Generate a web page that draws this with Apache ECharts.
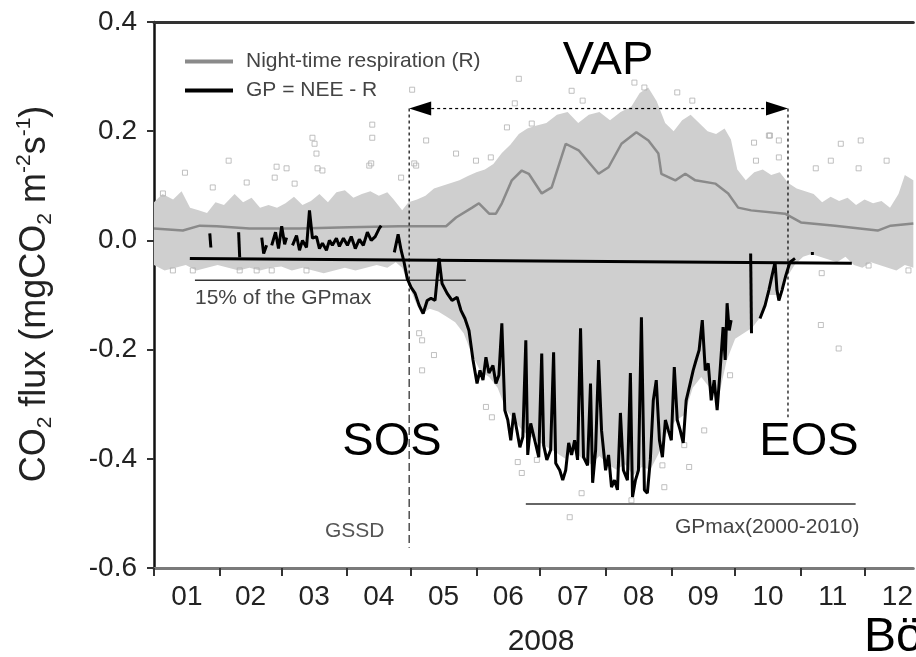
<!DOCTYPE html>
<html><head><meta charset="utf-8">
<script src="https://cdn.jsdelivr.net/npm/echarts@6/dist/echarts.min.js"></script>
<style>html,body{margin:0;padding:0;background:#fff}#c{width:916px;height:657px}</style>
</head><body><div id="c"></div>
<script>
// ---------- data (x = day of year 2008, y = CO2 flux mgCO2 m-2 s-1) ----------
const months = ['01','02','03','04','05','06','07','08','09','10','11','12'];
const monthStarts = [0,31,60,91,121,152,182,213,244,274,305,335];
const monthMids = [15.5,45.5,75.5,106,136.5,167,197.5,228.5,259,289.5,320,350.5];
const yMin = -0.6, yMax = 0.4, yStep = 0.2;
const dayMin = 0, dayMax = 358; // visible part of the year (figure is cropped on the right)

// upper / lower envelope of the dense cloud of half-hourly NEE points
const bandTop = [[0,0.070],[4,0.085],[9,0.075],[13,0.090],[17,0.060],[21,0.055],[25,0.050],[29,0.070],[33,0.065],[38,0.085],[42,0.070],[46,0.078],[50,0.060],[54,0.065],[58,0.060],[62,0.068],[66,0.080],[70,0.065],[74,0.072],[78,0.085],[82,0.070],[86,0.088],[90,0.092],[94,0.078],[98,0.085],[102,0.090],[106,0.082],[110,0.088],[113,0.075],[117,0.055],[120,0.070],[124,0.075],[128,0.082],[132,0.095],[136,0.100],[140,0.105],[144,0.110],[148,0.118],[152,0.125],[156,0.130],[160,0.140],[164,0.160],[168,0.175],[172,0.195],[176,0.205],[180,0.210],[185,0.215],[190,0.230],[195,0.235],[200,0.215],[205,0.230],[210,0.235],[215,0.220],[220,0.235],[225,0.245],[229,0.270],[233,0.280],[237,0.255],[241,0.215],[245,0.200],[249,0.220],[253,0.230],[257,0.215],[261,0.200],[265,0.195],[269,0.205],[272,0.185],[275,0.130],[279,0.110],[283,0.125],[287,0.130],[291,0.120],[295,0.125],[299,0.105],[303,0.095],[307,0.090],[311,0.085],[315,0.070],[319,0.080],[323,0.072],[327,0.078],[331,0.065],[335,0.075],[339,0.068],[343,0.072],[347,0.060],[351,0.085],[354,0.120],[358,0.110]];
const bandBot = [[0,-0.045],[5,-0.055],[10,-0.050],[15,-0.045],[20,-0.055],[25,-0.050],[30,-0.045],[35,-0.050],[40,-0.055],[45,-0.050],[50,-0.055],[55,-0.050],[60,-0.048],[65,-0.055],[70,-0.050],[75,-0.055],[80,-0.060],[85,-0.055],[90,-0.050],[95,-0.055],[100,-0.050],[105,-0.045],[110,-0.050],[114,-0.040],[117,-0.050],[120,-0.080],[123,-0.110],[126,-0.135],[130,-0.125],[134,-0.130],[138,-0.140],[142,-0.150],[146,-0.170],[150,-0.210],[154,-0.240],[158,-0.250],[162,-0.270],[166,-0.310],[170,-0.330],[174,-0.350],[178,-0.360],[182,-0.370],[186,-0.380],[190,-0.390],[194,-0.400],[198,-0.385],[202,-0.400],[206,-0.410],[210,-0.395],[214,-0.410],[218,-0.420],[222,-0.410],[226,-0.430],[230,-0.415],[234,-0.420],[238,-0.390],[242,-0.350],[246,-0.330],[250,-0.320],[254,-0.270],[258,-0.250],[262,-0.270],[266,-0.290],[270,-0.220],[274,-0.180],[278,-0.170],[282,-0.160],[286,-0.140],[290,-0.100],[294,-0.100],[298,-0.070],[302,-0.045],[306,-0.030],[310,-0.025],[314,-0.030],[318,-0.035],[322,-0.040],[326,-0.030],[330,-0.045],[334,-0.050],[338,-0.040],[342,-0.045],[346,-0.050],[350,-0.055],[354,-0.045],[358,-0.050]];

// isolated outlying points
const outliers = [[102.9,0.212],[102.9,0.188],[74.7,0.188],[75.7,0.177],[76.6,0.159],[128.3,0.183],[35.2,0.146],[14.6,0.124],[57.8,0.135],[62.5,0.132],[102.4,0.141],[79.4,0.128],[122.7,0.141],[121.7,0.276],[142.4,0.159],[172,0.296],[170.1,0.251],[196.9,0.274],[202.1,0.256],[226.5,0.289],[231.2,0.28],[246.7,0.271],[253.8,0.256],[166.4,0.207],[178.1,0.214],[282.9,0.179],[289.9,0.192],[294.6,0.183],[294.6,0.152],[312,0.132],[319.1,0.146],[323.8,0.177],[333.2,0.183],[332.2,0.132],[345.4,0.146],[314.8,-0.06],[336.9,-0.046],[355.7,-0.055],[314.4,-0.155],[322.8,-0.198],[271.6,-0.247],[259.4,-0.348],[252.3,-0.415],[240.6,-0.452],[225.1,-0.476],[201.6,-0.463],[196,-0.507],[173.4,-0.426],[171.5,-0.406],[180.5,-0.402],[239.7,-0.412],[250,-0.375],[125,-0.17],[126.4,-0.183],[132,-0.21],[126.4,-0.238],[156.5,-0.305],[159.3,-0.324],[283.8,0.146],[290.4,0.192],[151.8,0.146],[158.8,0.152],[123.6,0.137],[101.5,0.137],[116.5,0.115],[56.9,0.115],[66.3,0.104],[27.7,0.097],[43.7,0.106],[4.2,0.086],[77.1,0.132],[18.3,-0.055],[8.9,-0.055],[40.4,-0.055],[48.4,-0.055],[55.5,-0.055],[71.9,-0.055]];

// night-time respiration R
const respR = [[0,0.022],[13.6,0.018],[21.6,0.027],[29.6,0.026],[45,0.022],[68.6,0.022],[92,0.024],[115.6,0.026],[137.7,0.026],[142.4,0.042],[150,0.060],[153.2,0.068],[158,0.049],[161.2,0.049],[164,0.068],[168.7,0.110],[173.4,0.128],[176.7,0.122],[182.8,0.086],[187.5,0.097],[194.1,0.177],[200.2,0.165],[209.6,0.122],[214.3,0.134],[220.4,0.177],[227.4,0.198],[233.1,0.183],[237.8,0.159],[239.2,0.122],[245.8,0.110],[250.5,0.122],[255.2,0.110],[264.6,0.104],[270.7,0.086],[275.4,0.060],[281.5,0.055],[297.5,0.049],[305,0.033],[321,0.027],[341.2,0.018],[347.3,0.027],[358,0.031]];

// GP = NEE - R (daily), drawn as separate fragments where data exist
const gpJan = [[26.3,0.013],[26.8,-0.013]];
const gpFeb = [[39.9,0.015],[40.4,-0.031]];
const gpFeb2 = [[50.8,0.005],[51.7,-0.024],[53.1,-0.009]];
const gpMar = [[55.5,-0.009],[57.3,0.015],[58.7,-0.015],[60.2,0.026],[61.6,-0.007],[62.5,0.005]];
const gpMarApr = [[65.3,-0.009],[67.2,0.009],[68.6,-0.018],[70.0,0.0],[71.9,-0.013],[73.3,0.055],[74.7,0.004],[76.6,0.007],[78.0,-0.015],[79.4,-0.005],[81.3,-0.018],[82.7,0.0],[84.1,-0.009],[86.0,0.004],[87.4,-0.011],[89.3,0.004],[91.2,-0.009],[93.0,0.007],[94.9,-0.015],[96.8,0.002],[98.7,-0.009],[100.6,0.015],[102.4,0.0],[104.3,0.007],[106.2,0.022],[107.1,0.027]];
const gpSeason = [[113.3,-0.022],[115.1,0.011],[116.5,-0.018],[117.9,-0.040],[119.4,-0.070],[121.2,-0.086],[123.1,-0.097],[125.0,-0.119],[126.9,-0.134],[128.8,-0.110],[130.6,-0.106],[132.5,-0.110],[134.4,-0.033],[135.8,-0.079],[138.2,-0.097],[140.5,-0.110],[142.9,-0.104],[144.7,-0.128],[146.6,-0.143],[148.5,-0.165],[150.4,-0.219],[152.3,-0.262],[153.7,-0.238],[155.1,-0.256],[156.5,-0.214],[157.9,-0.243],[159.8,-0.229],[161.2,-0.262],[162.6,-0.247],[164.0,-0.152],[165.4,-0.311],[166.8,-0.329],[168.2,-0.366],[169.6,-0.316],[171.1,-0.348],[172.5,-0.379],[173.9,-0.360],[175.3,-0.183],[176.2,-0.393],[177.6,-0.335],[179.5,-0.366],[181.4,-0.397],[182.8,-0.207],[183.7,-0.375],[185.2,-0.402],[187.0,-0.384],[188.4,-0.205],[189.4,-0.408],[191.3,-0.421],[192.7,-0.439],[194.1,-0.421],[195.5,-0.371],[196.9,-0.393],[198.3,-0.366],[199.7,-0.402],[201.1,-0.161],[202.5,-0.397],[204.4,-0.412],[205.8,-0.262],[206.8,-0.444],[208.2,-0.384],[209.6,-0.219],[211.0,-0.348],[212.9,-0.421],[214.3,-0.393],[215.7,-0.452],[217.1,-0.439],[218.5,-0.457],[219.9,-0.316],[221.3,-0.421],[223.2,-0.439],[224.6,-0.243],[225.6,-0.470],[227.0,-0.439],[228.4,-0.421],[229.8,-0.141],[231.2,-0.457],[232.6,-0.463],[234.0,-0.402],[235.4,-0.293],[236.8,-0.256],[238.3,-0.366],[239.7,-0.397],[241.1,-0.329],[242.5,-0.348],[243.9,-0.366],[245.3,-0.232],[246.7,-0.329],[248.1,-0.348],[249.5,-0.371],[250.9,-0.293],[252.8,-0.262],[254.2,-0.238],[255.6,-0.219],[257.0,-0.201],[258.5,-0.146],[259.9,-0.238],[261.3,-0.225],[262.7,-0.293],[264.1,-0.256],[265.5,-0.311],[266.9,-0.238],[268.3,-0.159],[269.3,-0.219],[270.2,-0.115],[271.2,-0.165],[272.1,-0.146]];
const gpOct1 = [[281.3,-0.024],[281.7,-0.170]];
const gpOct2 = [[285.7,-0.143],[288.1,-0.119],[289.9,-0.091],[291.4,-0.064],[292.8,-0.040],[293.7,-0.091],[294.6,-0.110],[296.1,-0.091],[297.9,-0.064],[299.8,-0.040],[302.2,-0.033]];
const gpOct3 = [[309.7,-0.024],[311.1,-0.024]];

// reference lines
const thresholdLine = [[16.9,-0.033],[329,-0.042]];
const pct15Line = [[19.3,-0.073],[147,-0.073]];
const gpMaxLine = [[175.3,-0.483],[330.8,-0.483]];
const sosDotted = [[120.3,0.2415],[120.3,-0.10]];
const gssdDashed = [[120.3,-0.10],[120.3,-0.563]];
const eosDotted = [[298.9,0.2415],[298.9,-0.324]];
const vapSpan = [[120.3,298.9,0.2415]];

// ---------- chart ----------
const FONT = '"Liberation Sans", Arial, Helvetica, sans-serif';
const chart = echarts.init(document.getElementById('c'));

function lineSeries(name, data, color, width, type, z) {
  return {type:'line', name, data, symbol:'none', showSymbol:false, silent:true, z:z||3,
    xAxisIndex:0, yAxisIndex:0, animation:false,
    lineStyle:{color, width, type:type||'solid'}, itemStyle:{color}};
}

const gpName = 'GP = NEE - R';
const rName = 'Night-time respiration (R)';

const series = [
  {type:'custom', name:'cloud', silent:true, z:1, xAxisIndex:0, yAxisIndex:0, data:[[0,0]], clip:true, animation:false,
   renderItem:(params, api) => {
     const pts = bandTop.map(p => api.coord(p)).concat(bandBot.slice().reverse().map(p => api.coord(p)));
     return {type:'polygon', shape:{points:pts}, style:{fill:'#cfcfcf', stroke:null}};
   }},
  {type:'scatter', name:'points', data:outliers, symbol:'rect', symbolSize:5, silent:true, z:2, animation:false,
   itemStyle:{color:'rgba(255,255,255,0)', borderColor:'#b0b0b0', borderWidth:1}},
  lineSeries(rName, respR, '#8a8a8a', 2.5, 'solid', 3),
  lineSeries('p15', pct15Line, '#333', 1.5, 'solid', 3),
  lineSeries('gpmax', gpMaxLine, '#333', 1.5, 'solid', 3),
];
[gpJan, gpFeb, gpFeb2, gpMar, gpMarApr, gpSeason, gpOct1, gpOct2, gpOct3].forEach(d => series.push(lineSeries(gpName, d, '#000', 3, 'solid', 4)));
series.push(lineSeries('thr', thresholdLine, '#000', 3, 'solid', 5));
series.push(lineSeries('sos', sosDotted, '#000', 1.2, [3,3], 5));
series.push(lineSeries('gssd', gssdDashed, '#222', 1.2, [8,4], 5));
series.push(lineSeries('eos', eosDotted, '#000', 1.2, [3,3], 5));
series.push({type:'custom', name:'vap', silent:true, z:6, data:vapSpan, animation:false, clip:false,
  renderItem:(params, api) => {
    const a = api.coord([api.value(0), api.value(2)]);
    const b = api.coord([api.value(1), api.value(2)]);
    const L = 22, H = 7;
    return {type:'group', children:[
      {type:'line', shape:{x1:a[0]+L, y1:a[1], x2:b[0]-L, y2:b[1]}, style:{stroke:'#000', lineWidth:1.2, lineDash:[3,3]}},
      {type:'polygon', shape:{points:[[a[0],a[1]],[a[0]+L,a[1]-H],[a[0]+L,a[1]+H]]}, style:{fill:'#000'}},
      {type:'polygon', shape:{points:[[b[0],b[1]],[b[0]-L,b[1]-H],[b[0]-L,b[1]+H]]}, style:{fill:'#000'}}
    ]};
  }});

function txt(text, x, y, size, align, color) {
  return {type:'text', x, y, z:100, silent:true,
    style:{text, fontSize:size, fontFamily:FONT, fill:color||'#000', align:align||'left', verticalAlign:'middle'}};
}

const option = {
  backgroundColor:'#fff',
  animation:false,
  grid:{left:154, top:22, right:0, bottom:89, containLabel:false},
  legend:{show:true, data:[rName, gpName], orient:'vertical', left:185, top:51, itemWidth:48, itemHeight:4, itemGap:8, padding:0,
    icon:'rect', selectedMode:false, textStyle:{fontSize:21, fontFamily:FONT, color:'#444', padding:[0,0,0,8]}},
  xAxis:[
    {type:'value', min:dayMin, max:dayMax, position:'top',
     axisLine:{show:true, onZero:false, lineStyle:{color:'#333', width:3}},
     axisTick:{show:false}, axisLabel:{show:false}, splitLine:{show:false}},
    {type:'value', min:dayMin, max:dayMax, position:'bottom',
     axisLine:{show:true, onZero:false, lineStyle:{color:'#7a7a7a', width:3}},
     axisTick:{show:true, inside:false, length:8, customValues:monthStarts, lineStyle:{color:'#333', width:2}},
     axisLabel:{customValues:monthMids, margin:15, fontSize:28, fontFamily:FONT, color:'#222',
       formatter:v => { const i = monthMids.indexOf(v); return i >= 0 ? months[i] : ''; }},
     splitLine:{show:false}}
  ],
  yAxis:{type:'value', min:yMin, max:yMax, interval:yStep,
    axisLine:{show:true, onZero:false, lineStyle:{color:'#111', width:2.5}},
    axisTick:{show:true, inside:false, length:7, lineStyle:{color:'#333', width:2}},
    axisLabel:{margin:17, fontSize:28, fontFamily:FONT, color:'#222',
      formatter:v => (Math.abs(v) < 1e-9 ? '0.0' : v.toFixed(1))},
    splitLine:{show:false}},
  graphic:[
    txt('VAP', 608, 61, 47, 'center'),
    txt('SOS', 392, 442, 47, 'center'),
    txt('EOS', 809, 442, 47, 'center'),
    txt('15% of the GPmax', 195, 298, 21, 'left', '#444'),
    txt('GPmax(2000-2010)', 675, 527, 21, 'left', '#444'),
    txt('GSSD', 325, 531, 21, 'left', '#555'),
    txt('2008', 541, 642, 30, 'center', '#222'),
    txt('Bö', 864, 638, 48, 'left'),
    {type:'text', x:35, y:294, rotation:Math.PI/2, z:100, silent:true,
     style:{text:'{a|CO}{s|2}{a| flux (mgCO}{s|2}{a| m}{p|-2}{a|s}{p|-1}{a|)}',
       align:'center', verticalAlign:'middle', fill:'#222',
       rich:{
         a:{fontSize:36, fontFamily:FONT, lineHeight:42, fill:'#222'},
         s:{fontSize:21, fontFamily:FONT, lineHeight:21, verticalAlign:'bottom', fill:'#222'},
         p:{fontSize:21, fontFamily:FONT, lineHeight:21, verticalAlign:'top', fill:'#222'}
       }}}
  ],
  series
};
chart.setOption(option);
</script>
</body></html>
